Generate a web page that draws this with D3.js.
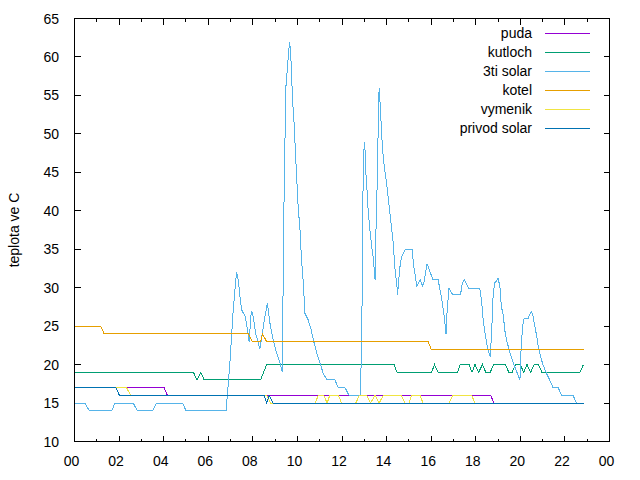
<!DOCTYPE html>
<html>
<head>
<meta charset="utf-8">
<script src="https://cdn.jsdelivr.net/npm/d3@7"></script>
<style>
  body { margin: 0; background: #fff; }
  text { font-family: "Liberation Sans", Arial, sans-serif; font-size: 14px; fill: #000; }
  .serie { fill: none; stroke-width: 1; shape-rendering: crispEdges; }
</style>
</head>
<body>
<div id="chart"></div>
<script>
const width = 640;
const height = 480;

// cas v minutach od pulnoci, teplota ve C
const puda = [[0,17],[241,17],[250,16],[1120,16],[1129,15],[1371,15]];

const kutloch = [[0,19],[320,19],[330,18],[340,19],[349,18],[501,18],[517,20],[860,20],[868,19],
  [961,19],[969,20],[979,19],[1031,19],[1038,20],[1062,20],[1070,19],[1078,20],[1088,19],[1098,20],
  [1107,19],[1119,19],[1128,20],[1160,20],[1169,19],[1178,19],[1187,20],[1200,20],[1209,19],[1218,20],
  [1228,19],[1237,20],[1249,20],[1258,19],[1360,19],[1370,20]];

const solar3 = [[0,15],[28,15],[40,14],[100,14],[109,15],[158,15],[169,14],[210,14],[221,15],[291,15],
  [300,14],[408,14],[418,20],[427,27],[436,32],[441,31],[445,29],[450,27.1],[459,26.3],[463,25.4],
  [470,23],[476,27],[480,26.5],[488,24],[499,22],[510,25.5],[519,28],[526,25.4],[535,23.2],[544,21.5],
  [553,20.2],[559,19.1],[562,32.3],[564,41.4],[567,50.5],[569,56.1],[574,59.2],[577,60.9],[579,62],
  [582,60.5],[584,57.9],[587,54.4],[591,51.4],[594,48.3],[598,44.4],[602,40.5],[607,37.5],[611,33.6],
  [616,30.6],[620,26.7],[629,25.8],[636,24.7],[643,23.2],[652,21.5],[661,20.2],[669,18.9],[680,18],
  [701,18],[710,17],[728,17],[739,16],[770,16],[774,28],[777,45],[780,49],[782,47.9],[784,44.9],
  [786,44],[789,41],[792,39.2],[795,37.5],[800,35.3],[804,34],[809,31],[810,35],[813,40],[816,46.6],
  [818,52.7],[820,56],[822,54.5],[824,52.7],[827,49.7],[831,47],[835,45.3],[840,43.6],[844,41.8],
  [849,39.7],[853,37.9],[858,35.8],[862,32.7],[867,30.6],[870,29.1],[871,30],[876,32.7],[880,34],
  [891,35],[909,35],[912,33.2],[916,31.9],[921,30.2],[931,31],[937,30.2],[940,30.5],[949,33.1],
  [965,31],[979,31],[983,29.9],[990,28.1],[995,26.3],[1000,24],[1003,27.1],[1008,29.9],[1015,29.3],
  [1019,29.1],[1039,29.1],[1044,30.6],[1049,31],[1055,30.5],[1061,29.9],[1091,29.9],[1096,28.1],
  [1100,25.8],[1105,24.1],[1111,22.4],[1116,21.5],[1119,21],[1123,24.5],[1127,29.3],[1131,30.6],
  [1136,30.9],[1140,31.2],[1145,30.2],[1149,27.5],[1154,26.5],[1158,24.5],[1163,23.2],[1172,21.5],
  [1181,20.2],[1190,19.1],[1199,18],[1201,21.1],[1206,25],[1210,26],[1221,26],[1226,26.6],[1230,26.9],
  [1234,26.3],[1239,25],[1244,23.7],[1248,22.4],[1252,21.6],[1257,20.6],[1261,20],[1270,18.9],
  [1279,18],[1288,17],[1302,17],[1311,16],[1342,16],[1351,15],[1371,15]];

const kotel = [[0,25],[70,25],[80,24],[468,24],[478,23],[501,23],[506,24],[517,23],[952,23],[960,22],[1371,22]];

const vymenik = [[0,17],[140,17],[151,16],[517,16],[528,15],[648,15],[656,16],[671,16],[680,15],[687,16],
  [710,16],[719,15],[757,15],[767,16],[786,16],[797,15],[809,16],[820,15],[831,16],[880,16],[889,15],
  [900,15],[907,16],[930,16],[938,15],[1008,15],[1018,16],[1069,16],[1078,15],[1371,15]];

const privodSolar = [[0,17],[111,17],[121,16],[510,16],[517,15],[524,16],[534,15],[1371,15]];

const names = ["puda", "kutloch", "3ti solar", "kotel", "vymenik", "privod solar"];
const colors = ["#9400d3", "#009e73", "#56b4e9", "#e69f00", "#f0e442", "#0072b2"];
const series = [puda, kutloch, solar3, kotel, vymenik, privodSolar];

const yTicks = [10, 15, 20, 25, 30, 35, 40, 45, 50, 55, 60, 65];
const xTicks = d3.range(0, 1441, 120);
const xMinor = d3.range(60, 1440, 120);

const svg = d3.select("#chart")
  .append("svg")
  .attr("width", width)
  .attr("height", height);

const x = d3.scaleLinear().domain([0, 1440]).range([74.5, 609.5]);
const y = d3.scaleLinear().domain([10, 65]).range([441.5, 18.5]);

const line = d3.line()
  .x(d => x(d[0]))
  .y(d => y(d[1]));

// osy s tiky dovnitr na vsech stranach (jako gnuplot)
const g = svg.append("g").attr("stroke", "#000").attr("stroke-width", 1).attr("shape-rendering", "crispEdges");

yTicks.forEach(v => {
  g.append("line").attr("x1", x(0)).attr("x2", x(0) + 6).attr("y1", y(v)).attr("y2", y(v));
  g.append("line").attr("x1", x(1440)).attr("x2", x(1440) - 6).attr("y1", y(v)).attr("y2", y(v));
});
xTicks.forEach(t => {
  g.append("line").attr("x1", x(t)).attr("x2", x(t)).attr("y1", y(10)).attr("y2", y(10) - 6);
  g.append("line").attr("x1", x(t)).attr("x2", x(t)).attr("y1", y(65)).attr("y2", y(65) + 6);
});
xMinor.forEach(t => {
  g.append("line").attr("x1", x(t)).attr("x2", x(t)).attr("y1", y(10)).attr("y2", y(10) - 3);
  g.append("line").attr("x1", x(t)).attr("x2", x(t)).attr("y1", y(65)).attr("y2", y(65) + 3);
});

svg.selectAll(".ylab")
  .data(yTicks)
  .enter()
  .append("text")
  .attr("x", 59)
  .attr("y", d => y(d) + 5)
  .attr("text-anchor", "end")
  .text(d => d);

svg.selectAll(".xlab")
  .data(xTicks)
  .enter()
  .append("text")
  .attr("x", d => x(d) - 3)
  .attr("y", 466)
  .attr("text-anchor", "middle")
  .text(d => String((d / 60) % 24).padStart(2, "0"));

svg.append("text")
  .attr("transform", "translate(19,230) rotate(-90)")
  .attr("text-anchor", "middle")
  .text("teplota ve C");

svg.selectAll(".serie")
  .data(series)
  .enter()
  .append("path")
  .attr("class", "serie")
  .attr("stroke", (d, i) => colors[i])
  .attr("d", line);

// legenda
const legend = svg.append("g");
names.forEach((n, i) => {
  const ly = 33 + i * 19;
  legend.append("text")
    .attr("x", 532)
    .attr("y", ly + 5)
    .attr("text-anchor", "end")
    .text(n);
  legend.append("line")
    .attr("x1", 545).attr("x2", 590)
    .attr("y1", ly).attr("y2", ly)
    .attr("stroke", colors[i])
    .attr("shape-rendering", "crispEdges");
});

svg.append("rect")
  .attr("x", x(0)).attr("y", y(65))
  .attr("width", x(1440) - x(0)).attr("height", y(10) - y(65))
  .attr("fill", "none").attr("stroke", "#000")
  .attr("shape-rendering", "crispEdges");
</script>
</body>
</html>
